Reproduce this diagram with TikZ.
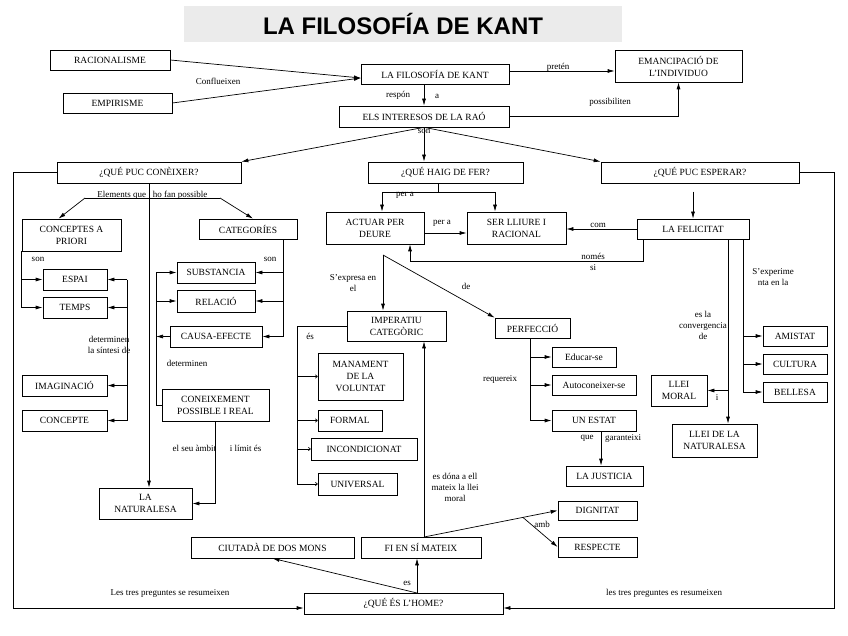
\documentclass[tikz,border=0pt]{standalone}
\usepackage{fontspec}
\setmainfont{Liberation Serif}
\newfontfamily\titlefont{Liberation Sans}
\usetikzlibrary{arrows.meta}
\usetikzlibrary{calc}

\begin{document}
\begin{tikzpicture}[x=1pt,y=-1pt,line width=0.7pt,
    box/.style={draw,inner sep=1pt,align=center,font=\fontsize{9.5}{12}\selectfont},
    lbl/.style={inner sep=0.5pt,align=center,font=\fontsize{9}{11}\selectfont},
    arr/.style={-{Latex[length=7pt,width=4pt]}},
    sarr/.style={-{To[length=2.5pt,width=4pt]}}]
    \useasboundingbox (0,0) rectangle (848,636);

    \draw (403,24) node[fill=black!8,minimum width=438,minimum height=36,font=\titlefont\fontsize{24}{24}\selectfont\bfseries] (titol) {LA FILOSOFÍA DE KANT};

    % caixes
    \draw (110,60) node[box,minimum width=120,minimum height=20] (racio) {RACIONALISME};
    \draw (117.5,103) node[box,minimum width=109,minimum height=20] (empir) {EMPIRISME};
    \draw (435,74) node[box,minimum width=148,minimum height=20] (kant) {LA FILOSOFÍA DE KANT};
    \draw (678.5,66) node[box,minimum width=127,minimum height=32] (emanc) {EMANCIPACIÓ DE\\L’INDIVIDUO};
    \draw (424,116.5) node[box,minimum width=170,minimum height=21] (interes) {ELS INTERESOS DE LA RAÓ};
    \draw (149,172.5) node[box,minimum width=184,minimum height=21] (coneixer) {¿QUÉ PUC CONÈIXER?};
    \draw (445.5,172.5) node[box,minimum width=155,minimum height=21] (fer) {¿QUÉ HAIG DE FER?};
    \draw (700,172.5) node[box,minimum width=198,minimum height=21] (esperar) {¿QUÉ PUC ESPERAR?};

    \draw (71.5,235) node[box,minimum width=99,minimum height=32] (priori) {CONCEPTES A\\PRIORI};
    \draw (248,229) node[box,minimum width=98,minimum height=20] (categ) {CATEGORÍES};
    \draw (75,279.5) node[box,minimum width=64,minimum height=21] (espai) {ESPAI};
    \draw (75,307.5) node[box,minimum width=64,minimum height=21] (temps) {TEMPS};
    \draw (64.5,385.5) node[box,minimum width=85,minimum height=21] (imagin) {IMAGINACIÓ};
    \draw (64.5,420.5) node[box,minimum width=85,minimum height=21] (concepte) {CONCEPTE};
    \draw (216,272.5) node[box,minimum width=78,minimum height=21] (subst) {SUBSTANCIA};
    \draw (216,301) node[box,minimum width=78,minimum height=22] (relacio) {RELACIÓ};
    \draw (216,336.5) node[box,minimum width=92,minimum height=21] (causa) {CAUSA-EFECTE};
    \draw (215.5,405) node[box,minimum width=107,minimum height=32] (conexi) {CONEIXEMENT\\POSSIBLE I REAL};
    \draw (145.5,503.5) node[box,minimum width=93,minimum height=31] (natura) {LA\\NATURALESA};

    \draw (375,228) node[box,minimum width=98,minimum height=32] (actuar) {ACTUAR PER\\DEURE};
    \draw (516.5,228) node[box,minimum width=99,minimum height=32] (lliure) {SER LLIURE I\\RACIONAL};
    \draw (693,229) node[box,minimum width=112,minimum height=20] (felic) {LA FELICITAT};
    \draw (396.5,326) node[box,minimum width=99,minimum height=30] (imper) {IMPERATIU\\CATEGÒRIC};
    \draw (532.5,328) node[box,minimum width=75,minimum height=20] (perfec) {PERFECCIÓ};
    \draw (360.5,376.5) node[box,minimum width=85,minimum height=47] (manam) {MANAMENT\\DE LA\\VOLUNTAT};
    \draw (350,420.5) node[box,minimum width=64,minimum height=21] (formal) {FORMAL};
    \draw (364,449) node[box,minimum width=106,minimum height=22] (incond) {INCONDICIONAT};
    \draw (357.5,484) node[box,minimum width=79,minimum height=22] (univ) {UNIVERSAL};
    \draw (584,357) node[box,minimum width=64,minimum height=20] (educ) {Educar-se};
    \draw (594,385) node[box,minimum width=84,minimum height=20] (autoc) {Autoconeixer-se};
    \draw (594,420.5) node[box,minimum width=84,minimum height=21] (estat) {UN ESTAT};
    \draw (604.5,476) node[box,minimum width=77,minimum height=20] (justic) {LA JUSTICIA};

    \draw (795,336) node[box,minimum width=64,minimum height=20] (amist) {AMISTAT};
    \draw (795,364) node[box,minimum width=64,minimum height=20] (cultura) {CULTURA};
    \draw (795,392) node[box,minimum width=64,minimum height=20] (bellesa) {BELLESA};
    \draw (679,390.5) node[box,minimum width=56,minimum height=31] (moral) {LLEI\\MORAL};
    \draw (714.5,440.5) node[box,minimum width=85,minimum height=33] (llnat) {LLEI DE LA\\NATURALESA};

    \draw (272.5,547.5) node[box,minimum width=163,minimum height=21] (ciutada) {CIUTADÀ DE DOS MONS};
    \draw (421,547.5) node[box,minimum width=120,minimum height=21] (fi) {FI EN SÍ MATEIX};
    \draw (597.5,510.5) node[box,minimum width=79,minimum height=19] (dignit) {DIGNITAT};
    \draw (597.5,547) node[box,minimum width=79,minimum height=20] (respec) {RESPECTE};
    \draw (403.5,603.5) node[box,minimum width=199,minimum height=21] (home) {¿QUÉ ÉS L’HOME?};

    % punts de pas
    \coordinate (kin) at (361,78);
    \coordinate (pk) at (509,71);
    \coordinate (elA) at (85,198);
    \coordinate (elB) at (220,198);
    \coordinate (sint) at (127,0);
    \coordinate (cs) at (283,0);
    \coordinate (cl) at (156,0);
    \coordinate (pa) at (438,192);
    \coordinate (ns) at (410,261);
    \coordinate (ad) at (383,255);
    \coordinate (ic) at (297,0);
    \coordinate (pc) at (530,0);
    \coordinate (eg) at (601,0);
    \coordinate (fc) at (728,0);
    \coordinate (fe) at (743,0);
    \coordinate (fa) at (424,537);
    \coordinate (ha) at (417,593);
    \coordinate (am) at ($(fa)!0.74!(dignit.west)$);

    % connectors
    \draw[arr] (racio.east) -- (kin);
    \draw[arr] (empir.east) -- (kin);
    \draw[arr] (kant.south -| interes.north) -- (interes.north);
    \draw[arr] (pk) -- (pk -| emanc.west);
    \draw[arr] (interes.east) -| (emanc.south);
    \draw[arr] (interes.south) -- (coneixer.north east);
    \draw[arr] (interes.south) -- (interes.south |- fer.north);
    \draw[arr] (interes.south) -- (esperar.north west);
    \draw[arr] (coneixer.west) -- ++(-43,0) |- ([yshift=-4.5pt]home.west);
    \draw[arr] (esperar.east) -- ++(35,0) |- ([yshift=-4.5pt]home.east);

    \draw[arr] (coneixer.south) -- (coneixer.south |- natura.north);
    \draw (elA) -- (elB);
    \draw[arr] (elA) -- ([xshift=-13pt]priori.north);
    \draw[arr] (elB) -- ([xshift=5pt]categ.north);
    \draw (priori.south west) -- (priori.south west |- temps.west);
    \draw[arr] (priori.south west |- espai.west) -- (espai.west);
    \draw[arr] (priori.south west |- temps.west) -- (temps.west);
    \draw (espai.east -| sint) -- (concepte.east -| sint);
    \foreach \n in {espai,temps,imagin,concepte}
        \draw[arr] (\n.east -| sint) -- (\n.east);
    \draw (categ.south -| cs) -- (causa.east -| cs);
    \foreach \n in {subst,relacio,causa}
        \draw[arr] (\n.east -| cs) -- (\n.east);
    \draw (subst.west -| cl) |- (conexi.west);
    \draw[arr] (subst.west -| cl) -- (subst.west);
    \draw[arr] (relacio.west -| cl) -- (relacio.west);
    \draw[arr] (causa.west) -- (causa.west -| cl);
    \draw[arr] (conexi.south) |- (natura.east);

    \draw (fer.south -| pa) -- (pa);
    \draw[arr] (pa) -| ([xshift=7pt]actuar.north);
    \draw[arr] (pa) -| ([xshift=-21.5pt]lliure.north);
    \draw[arr] ([yshift=-5pt]actuar.east) -- ([yshift=-5pt]lliure.west);
    \draw[arr] (felic.west) -- (felic.west -| lliure.east);
    \draw[arr] ([xshift=-50pt]felic.south) |- (ns) -- (ns |- actuar.south);
    \draw[arr] ($(felic.north)+(0,-27)$) -- (felic.north);
    \draw[arr] (ad) -- (ad |- imper.north);
    \draw[arr] (ad) -- (perfec.north west);

    \draw (imper.west) -| (ic |- univ.west);
    \foreach \n in {manam,formal,incond,univ}
        \draw[sarr] (\n.west -| ic) -- (\n.west);
    \draw (perfec.south -| pc) -- (estat.west -| pc);
    \foreach \n in {educ,autoc,estat}
        \draw[arr] (\n.west -| pc) -- (\n.west);
    \draw[arr] (estat.south -| eg) -- (justic.north -| eg);

    \draw[arr] (felic.south -| fc) -- (llnat.north -| fc);
    \draw[arr] (moral.east -| fc) -- (moral.east);
    \draw (felic.south -| fe) -- (bellesa.west -| fe);
    \foreach \n in {amist,cultura,bellesa}
        \draw[arr] (\n.west -| fe) -- (\n.west);

    \draw[arr] (fa) -- (fa |- imper.south);
    \draw[arr] (fa) -- (dignit.west);
    \draw[arr] (am) -- (respec.west);
    \draw[arr] (ha) -- (ha |- fi.south);
    \draw[arr] (ha) -- (ciutada.south);

    % etiquetes
    \draw (218,81) node[lbl] (l1) {Conflueixen};
    \draw (398,95) node[lbl] (l2) {respón};
    \draw (437,96) node[lbl] (l3) {a};
    \draw (558,67) node[lbl] (l4) {pretén};
    \draw (610,102) node[lbl] (l5) {possibiliten};
    \draw (424,131) node[lbl] (l6) {son};
    \draw (147,195) node[lbl,anchor=east] (l7) {Elements que};
    \draw (152,195) node[lbl,anchor=west] (l8) {ho fan possible};
    \draw (38,259) node[lbl] (l9) {son};
    \draw (270,259) node[lbl] (l10) {son};
    \draw (109,345) node[lbl] (l11) {determinen\\la síntesi de};
    \draw (187,363) node[lbl] (l12) {determinen};
    \draw (217,448) node[lbl,anchor=east] (l13) {el seu àmbit};
    \draw (229,448) node[lbl,anchor=west] (l14) {i límit és};
    \draw (405,195) node[lbl] (l15) {per a};
    \draw (442,223) node[lbl] (l16) {per a};
    \draw (598,225) node[lbl] (l17) {com};
    \draw (593,262) node[lbl] (l18) {només\\si};
    \draw (353,283) node[lbl] (l19) {S’expresa en\\el};
    \draw (466,286) node[lbl] (l20) {de};
    \draw (310,336) node[lbl] (l21) {és};
    \draw (500,379) node[lbl] (l22) {requereix};
    \draw (587,438) node[lbl] (l23) {que};
    \draw (623,438) node[lbl] (l24) {garanteixi};
    \draw (773,277) node[lbl] (l25) {S’experime\\nta en la};
    \draw (703,325) node[lbl] (l26) {es la\\convergencia\\de};
    \draw (717,398) node[lbl] (l27) {i};
    \draw (455,487) node[lbl] (l28) {es dóna a ell\\mateix la llei\\moral};
    \draw (542,524) node[lbl] (l29) {amb};
    \draw (407,583) node[lbl] (l30) {es};
    \draw (170,593) node[lbl] (l31) {Les tres preguntes se resumeixen};
    \draw (664,593) node[lbl] (l32) {les tres preguntes es resumeixen};
\end{tikzpicture}
\end{document}
